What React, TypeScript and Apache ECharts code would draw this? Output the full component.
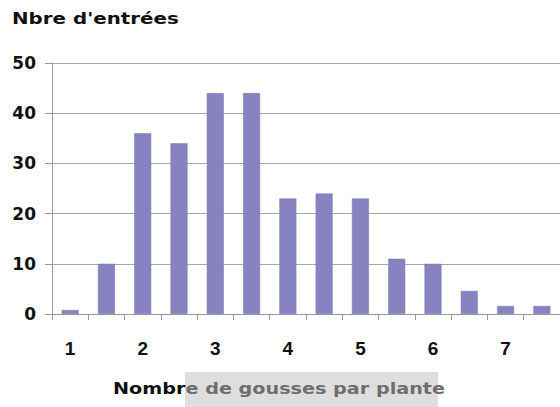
import React, { useEffect, useRef } from "react";
import * as echarts from "echarts";

const categories = ["1", "1.5", "2", "2.5", "3", "3.5", "4", "4.5", "5", "5.5", "6", "6.5", "7", "7.5"];
const counts = [0.8, 10, 36, 34, 44, 44, 23, 24, 23, 11, 10, 4.6, 1.6, 1.6];
const yTitle = "Nbre d'entrées";
const xTitleDark = "Nombr";
const xTitleLight = "e de gousses par plante";

export default function App() {
  const ref = useRef<HTMLDivElement>(null);
  useEffect(() => {
    if (!ref.current) return;
    const chart = echarts.init(ref.current, null, { renderer: "svg" });
    const font = "'Liberation Sans', Arial, sans-serif";
    const wide = "'DejaVu Sans', sans-serif";
    chart.setOption({
      animation: false,
      backgroundColor: "#ffffff",
      grid: { left: 52, right: 0, top: 63, bottom: 93, containLabel: false },
      xAxis: {
        type: "category",
        data: categories,
        boundaryGap: true,
        axisLine: { show: true, lineStyle: { color: "#999999", width: 1 } },
        axisTick: { show: true, interval: 0, length: 6, lineStyle: { color: "#999999" } },
        axisLabel: {
          interval: 1,
          margin: 25,
          fontSize: 19,
          fontWeight: "bold",
          fontFamily: font,
          color: "#111111",
        },
        splitLine: { show: false },
      },
      yAxis: {
        type: "value",
        min: 0,
        max: 50,
        interval: 10,
        axisLine: { show: true, lineStyle: { color: "#999999", width: 1 } },
        axisTick: { show: true, length: 7, lineStyle: { color: "#999999" } },
        axisLabel: {
          margin: 16,
          fontSize: 17,
          fontWeight: "bold",
          fontFamily: wide,
          color: "#111111",
        },
        splitLine: { show: true, lineStyle: { color: "#a8a8a8", width: 1 } },
      },
      series: [
        {
          type: "bar",
          data: counts,
          barWidth: 17,
          itemStyle: { color: "#8783c0", borderColor: "#7a76b4", borderWidth: 0.5 },
        },
      ],
      graphic: [
        {
          type: "text",
          x: 12,
          y: 18,
          scaleX: 1.24,
          style: {
            text: yTitle,
            fontSize: 16,
            fontWeight: "bold",
            fontFamily: wide,
            fill: "#111111",
            verticalAlign: "middle",
          },
        },
        {
          type: "rect",
          shape: { x: 185, y: 372, width: 253, height: 35 },
          style: { fill: "#dedede" },
          z: 0,
        },
        {
          type: "text",
          x: 113,
          y: 389,
          z: 10,
          scaleX: 1.2,
          style: {
            text: "{a|" + xTitleDark + "}{b|" + xTitleLight + "}",
            verticalAlign: "middle",
            rich: {
              a: { fontSize: 16, fontWeight: "bold", fontFamily: wide, fill: "#111111" },
              b: { fontSize: 16, fontWeight: "bold", fontFamily: wide, fill: "#6e6e6e" },
            },
          },
        },
      ],
    });
    return () => chart.dispose();
  }, []);
  return (
    <div
      ref={ref}
      style={{ position: "fixed", left: 0, top: 0, width: 560, height: 407 }}
    />
  );
}
